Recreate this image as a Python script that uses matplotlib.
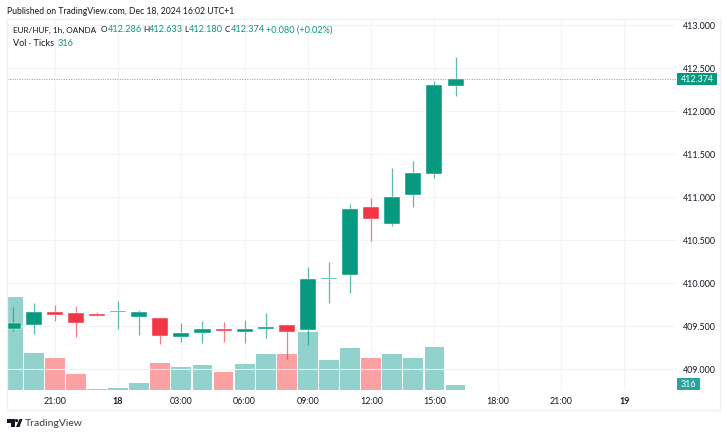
import matplotlib
matplotlib.use("Agg")
import matplotlib.pyplot as plt
from matplotlib.patches import Polygon, Rectangle

W, H = 727, 436

# hourly candles, 19:00 on the 17th to 16:00 on the 18th
opens = [409.469, 409.512, 409.663, 409.651, 409.640, 409.663, 409.605, 409.593, 409.372, 409.419, 409.465,
         409.430, 409.465, 409.512, 409.453, 410.047, 410.093, 410.884, 410.686, 411.023, 411.267, 412.286]
highs = [409.724, 409.767, 409.744, 409.733, 409.663, 409.791, 409.686, 409.593, 409.535, 409.558, 409.547,
         409.570, 409.651, 409.523, 410.186, 410.244, 410.919, 410.988, 411.337, 411.419, 412.349, 412.633]
lows = [409.445, 409.407, 409.558, 409.372, 409.616, 409.465, 409.395, 409.291, 409.314, 409.302, 409.314,
        409.302, 409.360, 409.116, 409.279, 409.767, 409.884, 410.488, 410.663, 410.884, 411.221, 412.180]
closes = [409.538, 409.663, 409.628, 409.535, 409.616, 409.674, 409.663, 409.384, 409.419, 409.465, 409.442,
          409.465, 409.488, 409.430, 410.047, 410.058, 410.860, 410.744, 411.000, 411.279, 412.302, 412.374]
volumes = [5860, 2330, 2020, 1010, 60, 130, 440, 1700, 1450, 1580, 1130,
           1640, 2270, 2270, 3650, 1890, 2650, 2020, 2270, 2020, 2710, 316]

time_pos = [2, 5, 8, 11, 14, 17, 20, 23, 26, 29]
time_labels = ["21:00", "18", "03:00", "06:00", "09:00", "12:00", "15:00", "18:00", "21:00", "19"]
price_ticks = [409, 409.5, 410, 410.5, 411, 411.5, 412, 412.5, 413]
last_price = 412.374
last_vol = 316

GREEN = "#089981"
RED = "#f23645"
FONT = "Lato"
GRID = "#f3f4f6"
TEXT = "#131722"
FS = 6.4

plt.rcParams["font.family"] = FONT

fig = plt.figure(figsize=(W / 100, H / 100), dpi=100, facecolor="white")


def px_text(x, y, s, color=TEXT, size=FS, **kw):
    fig.text(x / W, 1 - y / H, s, color=color, fontsize=size, va="center", **kw)


# panes are placed by pixel, left 7 right 677 top 19 bottom 390
rect = [7 / W, 1 - 390 / H, 670 / W, 371 / H]
ax_vol = fig.add_axes(rect)
ax = fig.add_axes(rect, sharex=ax_vol)
ax.patch.set_alpha(0)

ax_vol.set_xlim(-0.27, 31.5)
ax_vol.set_ylim(0, 371 * 63.2)
ax.set_ylim(408.756, 413.07)

# volume
vol_cols = ["#92d2cc" if c >= o else "#faa1a4" for o, c in zip(opens, closes)]
ax_vol.bar(range(len(volumes)), volumes, width=0.94, color=vol_cols, edgecolor="none", zorder=2)
ax_vol.set_yticks([])
ax_vol.set_xticks(time_pos)
ax_vol.grid(axis="x", color=GRID, lw=0.8, zorder=0)
ax_vol.set_axisbelow(True)
ax_vol.tick_params(axis="x", length=0, pad=5)
ax_vol.set_xticklabels(time_labels, fontsize=FS, color=TEXT)
ax_vol.get_xticklabels()[1].set_fontweight("bold")
ax_vol.get_xticklabels()[-1].set_fontweight("bold")

# candles
ax.grid(axis="y", color=GRID, lw=0.8, zorder=0)
ax.set_axisbelow(True)
for i in range(len(opens)):
    col = GREEN if closes[i] >= opens[i] else RED
    ax.vlines(i, lows[i], highs[i], color=col, lw=0.9, alpha=0.65, zorder=3)
    lo, hi = sorted((opens[i], closes[i]))
    ax.bar(i, max(hi - lo, 0.012), bottom=lo, width=0.76, color=col,
           edgecolor="white", lw=0.3, zorder=4)

ax.axhline(last_price, color=GREEN, lw=0.8, ls=(0, (1, 1.2)), alpha=0.6, zorder=2)

ax.yaxis.tick_right()
ax.set_yticks(price_ticks)
ax.set_yticklabels(["%.3f" % p for p in price_ticks], fontsize=FS, color=TEXT)
ax.tick_params(axis="y", length=0, pad=4.5)
ax.tick_params(axis="x", length=0, labelbottom=False)

for a in (ax, ax_vol):
    for s in a.spines.values():
        s.set_visible(False)

# outer frame and tags sit in figure pixels
over = fig.add_axes([0, 0, 1, 1], zorder=5)
over.set_xlim(0, W)
over.set_ylim(H, 0)
over.axis("off")
over.add_patch(Rectangle((7, 19), 713, 391, fill=False, ec="#eef0f3", lw=1))
over.add_patch(Rectangle((677, 73), 40, 12.5, fc=GREEN, ec="none"))
over.text(697, 79.2, "%.3f" % last_price, color="white", fontsize=FS, ha="center", va="center")
over.add_patch(Rectangle((677, 378), 23, 12, fc="#26a69a", ec="none"))
over.text(688.5, 384.2, str(last_vol), color="white", fontsize=FS, ha="center", va="center")

# TradingView logo
over.add_patch(Polygon([(7, 419), (15, 419), (15, 427), (11, 427), (11, 423), (7, 423)], fc="#131722", ec="none"))
over.add_patch(Polygon([(19.5, 419), (22.5, 419), (19.5, 427), (16, 427)], fc="#131722", ec="none"))
over.add_patch(plt.Circle((16.6, 420.6), 1.6, fc="#131722", ec="none"))

px_text(7, 11, "Published on TradingView.com, Dec 18, 2024 16:02 UTC+1", size=6.25)
px_text(13, 30, "EUR/HUF, 1h, OANDA", size=5.85)
for x, lab, x2, val in [(101, "O", 108, "412.286"), (143, "H", 149, "412.633"),
                        (184, "L", 189, "412.180"), (225, "C", 231, "412.374")]:
    px_text(x, 30, lab, size=5.85)
    px_text(x2, 30, val, color=GREEN, size=6.6)
px_text(266, 30, "+0.080 (+0.02%)", color=GREEN, size=6.6)
px_text(13, 43, "Vol · Ticks", size=6.6)
px_text(58, 43, "316", color=GREEN, size=6.6)
px_text(25, 423.5, "TradingView", color="#3a3e4a", size=7.5)

fig.savefig("out.png", dpi=100)
